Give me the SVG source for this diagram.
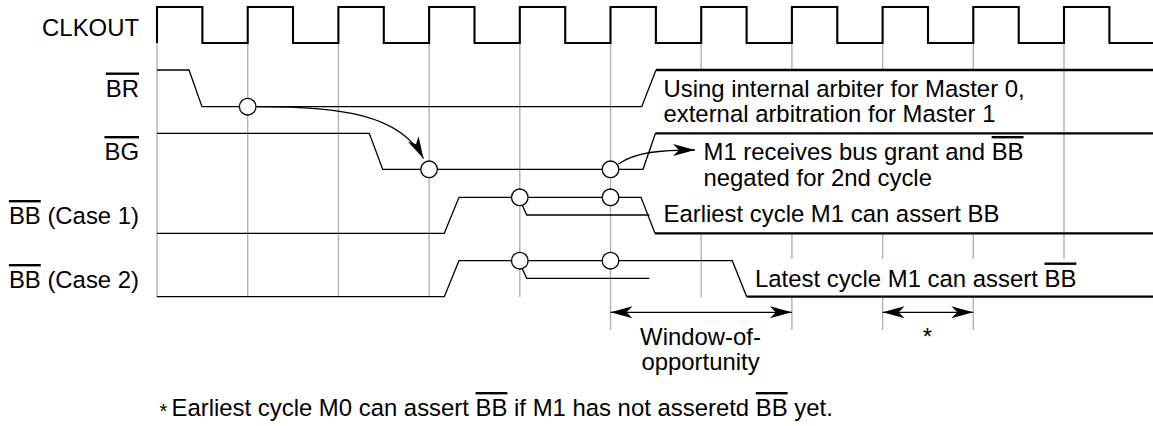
<svg xmlns="http://www.w3.org/2000/svg" width="1153" height="426" viewBox="0 0 1153 426">
<style>
text{font-family:"Liberation Sans",Arial,Helvetica,sans-serif;font-size:23.9px;fill:#000}
.end{text-anchor:end}
.mid{text-anchor:middle}
.ov{text-decoration:overline}
.clk{fill:none;stroke:#000;stroke-width:2.1}
.sig{fill:none;stroke:#000;stroke-width:1.3}
.thk{fill:none;stroke:#000;stroke-width:2.3}
.grid{fill:none;stroke:#b3b3b3;stroke-width:1.4}
.dot{fill:#fff;stroke:#000;stroke-width:1.3}
.arr{fill:none;stroke:#000;stroke-width:1.3}
</style>
<defs>
<marker id="ah" viewBox="-23 -7 25 14" markerWidth="25" markerHeight="14" refX="0" refY="0" orient="auto-start-reverse" markerUnits="userSpaceOnUse">
<path d="M0,0 L-22,-6 L-16,0 L-22,6 Z" fill="#000"/>
</marker>
</defs>

<g id="grid">
<path class="grid" d="M157,43V297 M247.7,43V297 M338.4,43V297 M429.1,43V297 M519.8,43V297 M610.5,43V330 M701.2,43V69 M701.2,233V297 M791.9,43V69 M791.9,233V259 M791.9,297V330 M882.6,43V69 M882.6,233V259 M882.6,297V330 M973.3,43V69 M973.3,233V259 M973.3,297V330 M1064,43V259"/>
</g>

<g id="clkout">
<text class="end" x="139" y="36">CLKOUT</text>
<path class="clk" d="M157,43V7H202.4V43H247.7V7H293V43H338.4V7H383.8V43H429.1V7H474.5V43H519.8V7H565.2V43H610.5V7H655.9V43H701.2V7H746.6V43H791.9V7H837.3V43H882.6V7H928V43H973.3V7H1018.7V43H1064V7H1109.4V43H1153"/>
</g>

<g id="br">
<text class="end" x="139" y="96.5"><tspan class="ov">BR</tspan></text>
<path class="sig" d="M157,70H189L202,106.7H641.7L656,70"/>
<path class="thk" d="M656,70H1153"/>
<text x="663.5" y="96.5">Using internal arbiter for Master 0,</text>
<text x="663.5" y="122">external arbitration for Master 1</text>
</g>

<g id="bg">
<text class="end" x="139" y="160"><tspan class="ov">BG</tspan></text>
<path class="sig" d="M157,133.3H369.3L382.7,169.3H643L655.5,133.3"/>
<path class="thk" d="M655.5,133.3H1153"/>
<text x="703.5" y="160">M1 receives bus grant and <tspan class="ov">BB</tspan></text>
<text x="703.5" y="186">negated for 2nd cycle</text>
</g>

<g id="bb1">
<text class="end" x="139" y="224"><tspan class="ov">BB</tspan> (Case 1)</text>
<path class="sig" d="M157,233.3H444.3L459,197.3H641L655,233.3"/>
<path class="thk" d="M655,233.3H1153"/>
<path class="sig" d="M521.7,204L526.7,215H649.3"/>
<text x="663.5" y="222">Earliest cycle M1 can assert BB</text>
</g>

<g id="bb2">
<text class="end" x="139" y="288"><tspan class="ov">BB</tspan> (Case 2)</text>
<path class="sig" d="M157,296.7H444.3L459,260.7H732.3L746.7,296.7"/>
<path class="thk" d="M746.7,296.7H1153"/>
<path class="sig" d="M521.7,267.5L526.7,278.3H649.3"/>
<text x="755" y="286.5">Latest cycle M1 can assert <tspan class="ov">BB</tspan></text>
</g>

<g id="connectors">
<path class="arr" d="M256.3,106.7C340,106.7 400,114 423.5,158.5" marker-end="url(#ah)"/>
<path class="arr" d="M618.3,164C636,152 660,150 695,150" marker-end="url(#ah)"/>
<path class="arr" d="M610.5,312.3H791.9" marker-start="url(#ah)" marker-end="url(#ah)"/>
<path class="arr" d="M882.6,312.3H973.3" marker-start="url(#ah)" marker-end="url(#ah)"/>
</g>

<g id="markers">
<circle class="dot" cx="247.7" cy="106.7" r="8.3"/>
<circle class="dot" cx="429.1" cy="169.3" r="8.3"/>
<circle class="dot" cx="610.5" cy="169.3" r="8.3"/>
<circle class="dot" cx="519.8" cy="197.3" r="8.3"/>
<circle class="dot" cx="610.5" cy="197.3" r="8.3"/>
<circle class="dot" cx="519.8" cy="260.7" r="8.3"/>
<circle class="dot" cx="610.5" cy="260.7" r="8.3"/>
</g>

<g id="window">
<text class="mid" x="700.5" y="345">Window-of-</text>
<text class="mid" x="700.5" y="370">opportunity</text>
</g>
<g id="star">
<text class="mid" x="927.5" y="345">*</text>
</g>

<g id="footnote">
<text x="159.5" y="418" style="font-size:20px">*</text>
<text x="171.5" y="416">Earliest cycle M0 can assert <tspan class="ov">BB</tspan> if M1 has not asseretd <tspan class="ov">BB</tspan> yet.</text>
</g>
</svg>
